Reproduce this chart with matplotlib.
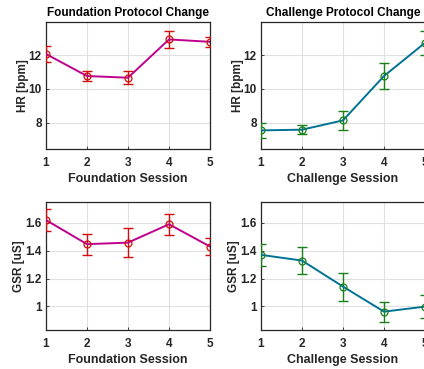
import matplotlib
matplotlib.use("Agg")
import matplotlib.pyplot as plt

sessions = [1, 2, 3, 4, 5]

found_hr = [12.06, 10.76, 10.66, 12.92, 12.78]
found_hr_err = [0.45, 0.27, 0.38, 0.48, 0.30]
chal_hr = [7.55, 7.59, 8.14, 10.76, 12.72]
chal_hr_err = [0.45, 0.28, 0.54, 0.74, 0.70]

found_gsr = [1.62, 1.447, 1.458, 1.59, 1.43]
found_gsr_err = [0.08, 0.075, 0.105, 0.075, 0.06]
chal_gsr = [1.37, 1.329, 1.142, 0.962, 0.998]
chal_gsr_err = [0.08, 0.10, 0.10, 0.072, 0.085]

plt.rcParams['font.family'] = ['Liberation Sans', 'DejaVu Sans']
plt.rcParams['font.weight'] = 'bold'

W, H = 424, 369
fig = plt.figure(figsize=(W / 100, H / 100), dpi=100)

def pos(l, r, t, b):
    return [l / W, (H - b) / H, (r - l) / W, (b - t) / H]

mag = (0.75, 0.0, 0.55)
red = (0.82, 0.05, 0.05)
teal = (0.0, 0.45, 0.58)
green = (0.1, 0.5, 0.1)
dark = (0.15, 0.15, 0.15)

panels = [
    (pos(46, 210, 22, 149), found_hr, found_hr_err, mag, red, 'Foundation Session', 'HR [bpm]', 'Foundation Protocol Change', (6.45, 13.95), [8, 10, 12], ['8', '10', '12']),
    (pos(261, 425, 22, 149), chal_hr, chal_hr_err, teal, green, 'Challenge Session', 'HR [bpm]', 'Challenge Protocol Change', (6.45, 13.95), [8, 10, 12], ['8', '10', '12']),
    (pos(46, 210, 202, 330), found_gsr, found_gsr_err, mag, red, 'Foundation Session', 'GSR [uS]', None, (0.83, 1.75), [1, 1.2, 1.4, 1.6], ['1', '1.2', '1.4', '1.6']),
    (pos(261, 425, 202, 330), chal_gsr, chal_gsr_err, teal, green, 'Challenge Session', 'GSR [uS]', None, (0.83, 1.75), [1, 1.2, 1.4, 1.6], ['1', '1.2', '1.4', '1.6']),
]

for p, y, e, lc, ec, xl, yl, title, ylim, yt, ytl in panels:
    ax = fig.add_axes(p)
    ax.errorbar(sessions, y, yerr=e, fmt='none', ecolor=ec, elinewidth=1.0,
                capsize=3.3, capthick=1.0, zorder=3)
    ax.plot(sessions, y, '-', color=lc, lw=1.4, zorder=4)
    ax.plot(sessions, y, 'o', mfc='none', mec=ec, ms=5, mew=0.9, zorder=5)
    ax.set_xlim(1, 5)
    ax.set_ylim(*ylim)
    ax.set_xticks(sessions)
    ax.set_yticks(yt)
    ax.set_yticklabels(ytl)
    ax.grid(True, color=(0.88, 0.88, 0.88), lw=0.8)
    ax.set_axisbelow(True)
    for s in ax.spines.values():
        s.set_color(dark)
        s.set_linewidth(0.9)
    ax.tick_params(direction='in', length=2.5, width=0.6, labelsize=8.5,
                   colors=dark)
    ax.tick_params(axis='x', pad=5.5)
    ax.tick_params(axis='y', pad=3)
    ax.set_xlabel(xl, fontsize=9, fontweight='bold', color=dark, labelpad=3)
    ax.set_ylabel(yl, fontsize=8.5, fontweight='bold', color=dark, labelpad=0)
    if title:
        ax.set_title(title, fontsize=8.5, fontweight='bold', pad=4)

fig.savefig('out.png', dpi=100)
